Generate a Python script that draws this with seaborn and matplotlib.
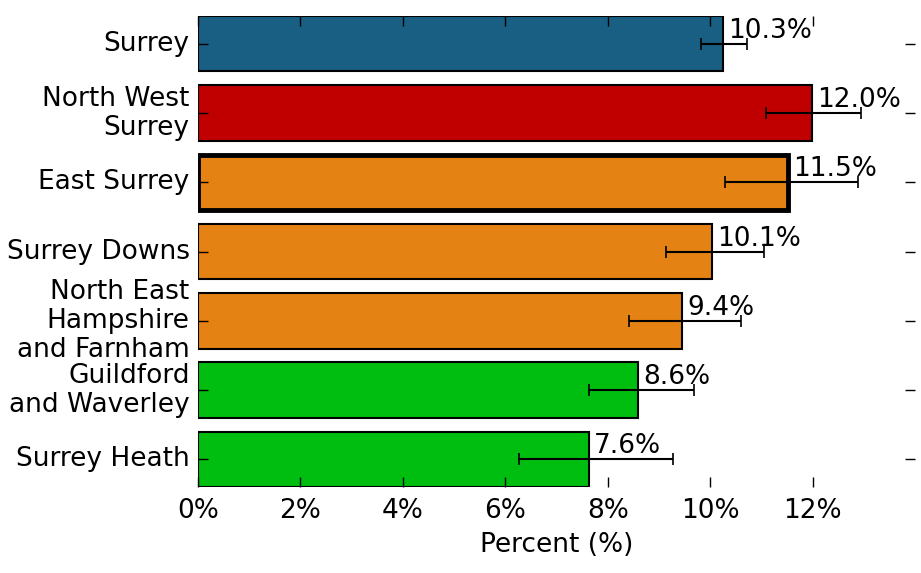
import matplotlib
matplotlib.use("Agg")
import matplotlib.pyplot as plt
import seaborn as sns
import pandas as pd
from matplotlib.ticker import FuncFormatter

categories = ["Surrey", "North West\nSurrey", "East Surrey", "Surrey Downs",
              "North East\nHampshire\nand Farnham", "Guildford\nand Waverley", "Surrey Heath"]
values = [10.26, 11.98, 11.52, 10.03, 9.45, 8.60, 7.63]
labels = ["10.3%", "12.0%", "11.5%", "10.1%", "9.4%", "8.6%", "7.6%"]
ci_low = [9.82, 11.09, 10.29, 9.14, 8.41, 7.64, 6.26]
ci_high = [10.72, 12.94, 12.88, 11.05, 10.61, 9.69, 9.27]
colors = ["#195f83", "#c00000", "#e58214", "#e58214", "#e58214", "#00be10", "#00be10"]
highlight = "East Surrey"
xticks = [0, 2, 4, 6, 8, 10, 12]

df = pd.DataFrame({"area": categories, "value": values})

sns.set_style("white")
plt.rcParams["font.family"] = ["DejaVu Sans"]
plt.rcParams.update({"text.color": "black", "axes.labelcolor": "black",
                     "xtick.color": "black", "ytick.color": "black"})

fig = plt.figure(figsize=(9.21, 5.73), dpi=100)
ax = fig.add_axes([0.215, 0.150, 0.7785, 0.822])

sns.barplot(data=df, x="value", y="area", hue="area", palette=colors, orient="h",
            width=0.8, edgecolor="black", linewidth=1.5, legend=False, ax=ax, errorbar=None,
            saturation=1)

for patch, cat in zip(ax.patches, categories):
    if cat == highlight:
        patch.set_linewidth(3.5)

for i, (v, lo, hi) in enumerate(zip(values, ci_low, ci_high)):
    ax.errorbar(v, i, xerr=[[v - lo], [hi - v]], fmt="none", ecolor="black",
                elinewidth=1.5, capsize=4.5, capthick=1.2, zorder=3)

for i, (v, lab) in enumerate(zip(values, labels)):
    ax.text(v + 0.1, i + 0.0, lab, ha="left", va="bottom", fontsize=19,
            color="black", zorder=4)

ax.set_xlim(0, 14)
ax.set_ylim(6.4, -0.4)
ax.set_xticks(xticks)
ax.xaxis.set_major_formatter(FuncFormatter(lambda x, p: f"{x:.0f}%"))
ax.set_xlabel("Percent (%)", fontsize=19, labelpad=6)
ax.set_ylabel("")
ax.tick_params(axis="both", labelsize=19, direction="in", length=7, width=1,
               top=True, right=True, bottom=True, left=True, color="black",
               labelcolor="black")
ax.tick_params(axis="x", pad=8)
ax.tick_params(axis="y", pad=6)
for lbl in ax.get_yticklabels():
    lbl.set_verticalalignment("center")
    lbl.set_linespacing(1.15)
for s in ax.spines.values():
    s.set_visible(False)
ax.set_axisbelow(False)

fig.savefig("out.png", dpi=100)
